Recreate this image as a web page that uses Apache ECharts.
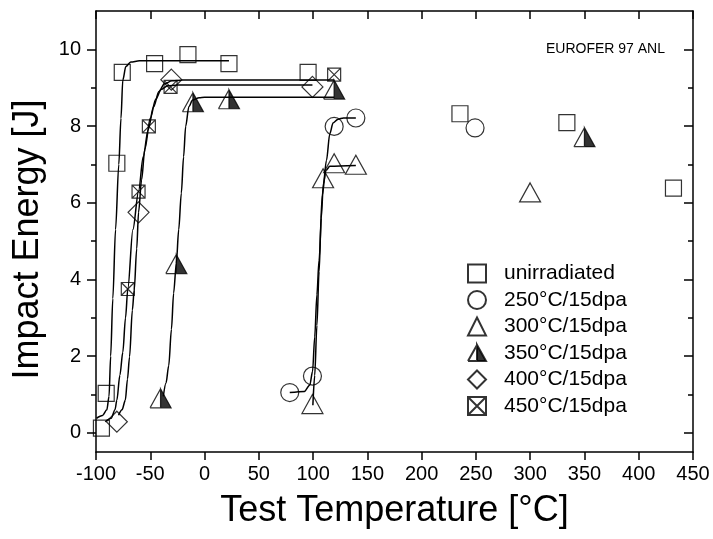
<!DOCTYPE html>
<html>
<head>
<meta charset="utf-8">
<script src="https://cdn.jsdelivr.net/npm/echarts@6/dist/echarts.min.js"></script>
<style>html,body{margin:0;padding:0;background:#fff;}#c{width:713px;height:539px;}</style>
</head>
<body>
<div id="c"></div>
<script>
// ---- data ----
const xTicks = [-100, -50, 0, 50, 100, 150, 200, 250, 300, 350, 400, 450];
const yMajor = [0, 2, 4, 6, 8, 10];
const yMinor = [1, 3, 5, 7, 9];
const seriesNames = ['unirradiated', '250°C/15dpa', '300°C/15dpa', '350°C/15dpa', '400°C/15dpa', '450°C/15dpa'];

const unirr = [[-95,0.12],[-90.6,1.03],[-80.8,7.03],[-75.8,9.4],[-46,9.63],[-15.3,9.86],[22.5,9.63],[95.4,9.4],[235.3,8.32],[333.8,8.09],[432,6.38]];
const irr250 = [[78.5,1.05],[99.4,1.48],[119.4,7.99],[139.4,8.21],[249.2,7.95]];
const irr300 = [[99.4,0.75],[109.2,6.64],[119.4,7.03],[139.4,6.99],[299.9,6.27]];
const irr350 = [[-40.5,0.9],[-26,4.4],[-10.7,8.62],[22.5,8.7],[119.4,8.95],[350,7.71]];
const irr400 = [[-80.8,0.29],[-60.8,5.75],[-30.6,9.21],[99.4,9.02]];
const irr450 = [[-70.7,3.75],[-60.8,6.29],[-51.3,7.99],[-31.3,9.02],[119.4,9.34]];

// fitted curves, points
const fitUnirr = [[-99.5,0.38],[-94,0.45],[-90,0.6],[-88,0.95],[-86.5,2.0],[-84.5,3.5],[-82,5.3],[-79,7.0],[-77,8.2],[-75.3,9.2],[-72.5,9.55],[-68,9.67],[-60,9.7],[22.5,9.7]];
const fit250 = [[78.5,1.05],[92,1.08],[97,1.25],[99.5,1.6],[101.5,2.5],[103.5,3.6],[105.5,4.5],[108.5,6.2],[112.3,7.1],[115.4,7.8],[118.4,8.08],[123,8.18],[128,8.21],[139.4,8.21]];
const fit300 = [[99.8,0.72],[101.5,1.5],[103.5,2.8],[105.5,4.2],[107.5,5.6],[109.5,6.5],[112,6.85],[115.4,6.95],[139.4,6.97]];
const fit350 = [[-38,0.95],[-35.5,1.3],[-33,1.75],[-30.5,2.7],[-28.5,3.64],[-26,4.42],[-23.8,5.3],[-21.4,6.25],[-19.3,7.2],[-17.4,7.99],[-14.4,8.51],[-11,8.68],[-5,8.74],[0,8.75],[119.4,8.75]];
const fit400 = [[-79.2,0.46],[-76,0.6],[-73,0.85],[-71,1.4],[-69.1,1.98],[-66.5,3.2],[-64.8,3.72],[-62.5,4.8],[-60.8,5.75],[-58,6.6],[-55,7.4],[-50,8.2],[-45,8.7],[-40,8.95],[-34,9.05],[-25,9.07],[99.4,9.07]];
const fit450 = [[-91.5,0.29],[-86,0.38],[-82.5,0.6],[-80.8,0.85],[-78,1.5],[-75.3,2.1],[-72.8,3.0],[-70.7,3.75],[-66,5.3],[-60.8,6.3],[-56.5,7.2],[-52,7.9],[-47,8.5],[-42,8.9],[-37,9.1],[-30,9.18],[-20,9.2],[119.4,9.2]];

const annotation = 'EUROFER 97 ANL';
const xName = 'Test Temperature [°C]';
const yName = 'Impact Energy [J]';

// ---- styling ----
const FONT = 'Liberation Sans, Arial, sans-serif';
const BLACK = '#000';
const halfTri = 'path://M10,0L0,18L10,0Z M0,18L10,18L0,18Z M10,0L10,18L20,18Z';
const crossSq = 'path://M0,0L10,0L10,10L0,10Z M0,0L10,10 M10,0L0,10';
const openStyle = {color: 'rgba(0,0,0,0)', borderColor: BLACK, borderWidth: 1.2};

function scatter(name, data, symbol, size, style) {
  return {name, type: 'scatter', data, symbol, symbolSize: size, itemStyle: style || openStyle,
          z: 5, silent: true, emphasis: {disabled: true}};
}
function fit(name, data) {
  return {name, type: 'line', data, showSymbol: false, smooth: 0.3, smoothMonotone: 'x',
          lineStyle: {color: BLACK, width: 1.5}, z: 3, silent: true, emphasis: {disabled: true}};
}

const lineStyle = {color: BLACK, width: 1.5};
const chart = echarts.init(document.getElementById('c'), null, {renderer: 'canvas'});
chart.setOption({
  animation: false,
  backgroundColor: '#fff',
  textStyle: {fontFamily: FONT, color: BLACK},
  grid: {left: 96, right: 20, top: 11, bottom: 87, containLabel: false, outerBoundsMode: 'none'},
  title: {text: annotation, right: 43, top: 37,
          textStyle: {fontFamily: FONT, fontSize: 14, fontWeight: 'normal', color: BLACK}},
  legend: {
    data: seriesNames, orient: 'vertical', left: 462, top: 258,
    itemWidth: 18, itemHeight: 18, itemGap: 5.5,
    textStyle: {fontFamily: FONT, fontSize: 21, color: BLACK, padding: [0, 0, 0, 13]},
    selectedMode: false
  },
  xAxis: [
    {type: 'value', position: 'bottom', min: -100, max: 450, interval: 50,
     name: xName, nameLocation: 'middle', nameGap: 41,
     nameTextStyle: {fontFamily: FONT, fontSize: 36, color: BLACK},
     axisLine: {show: true, onZero: false, lineStyle},
     axisTick: {show: true, inside: false, length: 8, lineStyle},
     axisLabel: {fontFamily: FONT, fontSize: 20, color: BLACK, margin: 12},
     splitLine: {show: false}},
    {type: 'value', position: 'top', min: -100, max: 450, interval: 50,
     axisLine: {show: true, onZero: false, lineStyle},
     axisTick: {show: true, inside: true, length: 8, lineStyle},
     axisLabel: {show: false}, splitLine: {show: false}}
  ],
  yAxis: [
    {type: 'value', position: 'left', min: -0.5, max: 11,
     name: yName, nameLocation: 'middle', nameGap: 50, nameRotate: 90,
     nameTextStyle: {fontFamily: FONT, fontSize: 36, color: BLACK, padding: [0, 16, 0, 0]},
     axisLine: {show: true, onZero: false, lineStyle},
     axisTick: {show: true, inside: false, length: 9, lineStyle, customValues: yMajor},
     axisLabel: {fontFamily: FONT, fontSize: 20, color: BLACK, margin: 15, customValues: yMajor},
     splitLine: {show: false}},
    {type: 'value', position: 'left', min: -0.5, max: 11,
     axisLine: {show: false, onZero: false},
     axisTick: {show: true, inside: false, length: 5, lineStyle, customValues: yMinor},
     axisLabel: {show: false, customValues: yMinor}, splitLine: {show: false}},
    {type: 'value', position: 'right', min: -0.5, max: 11,
     axisLine: {show: true, onZero: false, lineStyle},
     axisTick: {show: true, inside: true, length: 9, lineStyle, customValues: yMajor},
     axisLabel: {show: false, customValues: yMajor}, splitLine: {show: false}},
    {type: 'value', position: 'right', min: -0.5, max: 11,
     axisLine: {show: false, onZero: false},
     axisTick: {show: true, inside: true, length: 5, lineStyle, customValues: yMinor},
     axisLabel: {show: false, customValues: yMinor}, splitLine: {show: false}}
  ],
  series: [
    fit('fit unirradiated', fitUnirr),
    fit('fit 250', fit250),
    fit('fit 300', fit300),
    fit('fit 350', fit350),
    fit('fit 400', fit400),
    fit('fit 450', fit450),
    scatter(seriesNames[0], unirr, 'rect', [16, 16]),
    scatter(seriesNames[1], irr250, 'circle', 18),
    scatter(seriesNames[2], irr300, 'triangle', [21, 19]),
    scatter(seriesNames[3], irr350, halfTri, [21, 19], {color: BLACK, borderColor: BLACK, borderWidth: 1.2}),
    scatter(seriesNames[4], irr400, 'diamond', [21, 21]),
    scatter(seriesNames[5], irr450, crossSq, [13, 13])
  ]
});
</script>
</body>
</html>
